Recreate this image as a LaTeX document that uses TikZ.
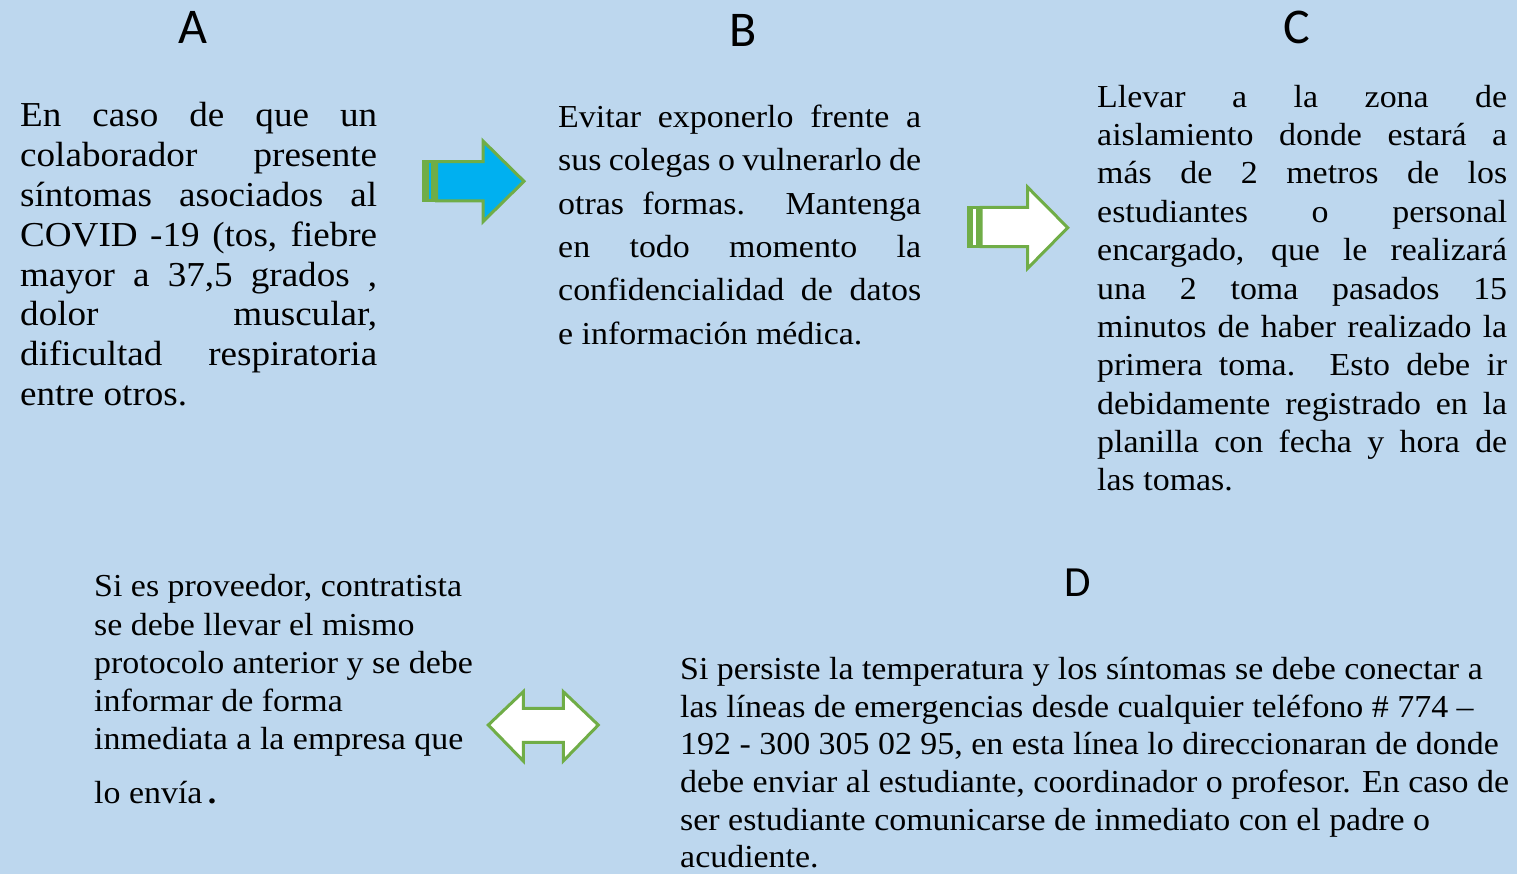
\documentclass[tikz,border=0pt]{standalone}
\usepackage{fontspec}
\setmainfont[FakeStretch=1.06]{Liberation Serif}
\newfontfamily\lettfont{Carlito}
\definecolor{bg}{HTML}{BDD7EE}
\definecolor{arrgreen}{HTML}{70AD47}
\definecolor{arrblue}{HTML}{00B0F0}
\newcommand{\jline}[1]{\makebox[\linewidth][s]{#1}\par}
\newcommand{\lline}[1]{\mbox{#1}\par}
\tikzset{
  letter/.style={font=\lettfont\fontsize{50}{50}\selectfont, inner sep=0pt},
  txt/.style={anchor=base west, inner sep=0pt},
  blockarrow/.style={draw=arrgreen, line width=3pt, line join=miter},
}
\begin{document}
\begin{tikzpicture}[x=1pt, y=-1pt]
\fill[bg] (0,0) rectangle (1517,874);
\useasboundingbox (0,0) rectangle (1517,874);

% letters
\node[letter] (la) at (193,27) {A};
\node[letter] (lb) at (743,30) {B};
\node[letter] (lc) at (1297,27) {C};
\node[letter, font=\lettfont\fontsize{43}{43}\selectfont] (ld) at (1078,583) {D};

% text A
\node[txt] (ta) at (20,127) {\parbox[t]{357pt}{\fontsize{35}{39.8}\selectfont
\jline{En caso de que un}
\jline{colaborador presente}
\jline{síntomas asociados al}
\jline{COVID -19 (tos, fiebre}
\jline{mayor a 37,5 grados ,}
\jline{dolor muscular,}
\jline{dificultad respiratoria}
\lline{entre otros.}}};

% text B
\node[txt] (tb) at (558,127.3) {\parbox[t]{363pt}{\fontsize{32}{43.4}\selectfont
\jline{Evitar exponerlo frente a}
\jline{sus colegas o vulnerarlo de}
\jline{otras formas. Mantenga}
\jline{en todo momento la}
\jline{confidencialidad de datos}
\lline{e información médica.}}};

% text C
\node[txt] (tc) at (1097,107.3) {\parbox[t]{410pt}{\fontsize{32}{38.35}\selectfont
\jline{Llevar a la zona de}
\jline{aislamiento donde estará a}
\jline{más de 2 metros de los}
\jline{estudiantes o personal}
\jline{encargado, que le realizará}
\jline{una 2 toma pasados 15}
\jline{minutos de haber realizado la}
\jline{primera toma. Esto debe ir}
\jline{debidamente registrado en la}
\jline{planilla con fecha y hora de}
\lline{las tomas.}}};

% bottom-left text
\node[txt] (te) at (94,596.7) {\parbox[t]{420pt}{\fontsize{32}{38.3}\selectfont
\lline{Si es proveedor, contratista}
\lline{se debe llevar el mismo}
\lline{protocolo anterior y se debe}
\lline{informar de forma}
\lline{inmediata a la empresa que}
\vspace{15pt}
\lline{lo envía\,\textbf{.}}}};

% text D
\node[txt] (td) at (680,679.3) {\parbox[t]{837pt}{\fontsize{32}{37.7}\selectfont
\lline{Si persiste la temperatura y los síntomas se debe conectar a}
\lline{las líneas de emergencias desde cualquier teléfono \# 774 –}
\lline{192 - 300 305 02 95, en esta línea lo direccionaran de donde}
\lline{debe enviar al estudiante, coordinador o profesor. En caso de}
\lline{ser estudiante comunicarse de inmediato con el padre o}
\lline{acudiente.}}};

% striped blue arrow (A -> B)
\fill[arrgreen] (422.3,160.2) rectangle (436.7,202.5);
\fill[arrblue] (429,163.5) rectangle (430.7,199.5);
\draw[blockarrow, fill=arrblue] (436.7,161.7) -- (483,161.7) -- (483,141) -- (524,181.3)
  -- (483,221.7) -- (483,201) -- (436.7,201) -- cycle;

% striped white arrow (B -> C)
\fill[arrgreen] (966.7,205.8) rectangle (981,248.2);
\fill[white] (973.3,209) rectangle (975.7,245);
\draw[blockarrow, fill=white] (981,207.3) -- (1027.7,207.3) -- (1027.7,187.3) -- (1067.7,227.7)
  -- (1027.7,268.3) -- (1027.7,246.7) -- (981,246.7) -- cycle;

% double arrow
\draw[blockarrow, fill=white] (488.3,725) -- (523.3,691.7) -- (523.3,708.3) -- (563.3,708.3)
  -- (563.3,691.7) -- (598.3,725) -- (563.3,761) -- (563.3,742.3) -- (523.3,742.3)
  -- (523.3,761) -- cycle;
\end{tikzpicture}
\end{document}
